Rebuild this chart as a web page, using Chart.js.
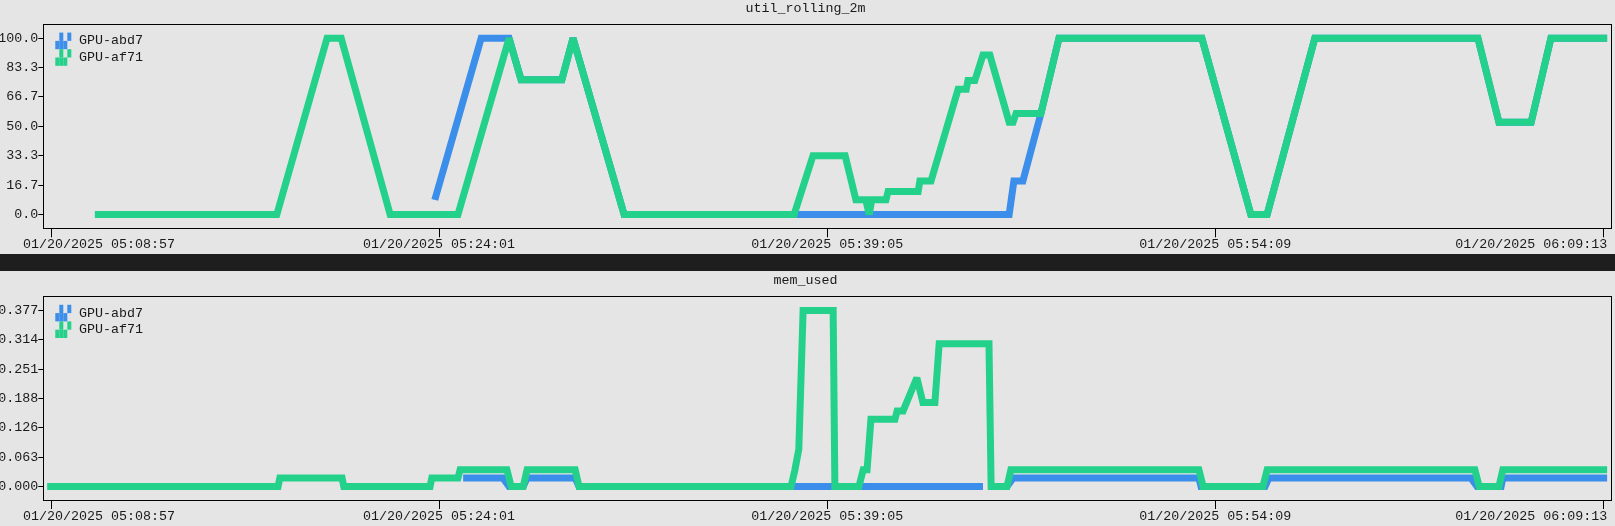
<!DOCTYPE html>
<html>
<head>
<meta charset="utf-8">
<title>util_rolling_2m / mem_used</title>
<script src="https://cdn.jsdelivr.net/npm/chart.js@4.4.1/dist/chart.umd.min.js"></script>
<style>
  html, body { margin: 0; padding: 0; background: #e5e5e5; }
  canvas { display: block; }
  .band { height: 17px; background: #1e1e1e; }
</style>
</head>
<body>
<canvas id="utilChart" width="1615" height="254"></canvas>
<div class="band"></div>
<canvas id="memChart" width="1615" height="255"></canvas>
<script>
// --- data ---
const startTime = '05:08:57';
const xTickTimes = ['05:08:57', '05:24:01', '05:39:05', '05:54:09', '06:09:13'];
const xTickLabels = ['01/20/2025 05:08:57', '01/20/2025 05:24:01', '01/20/2025 05:39:05',
                     '01/20/2025 05:54:09', '01/20/2025 06:09:13'];

const utilTicks = [0, 16.7, 33.3, 50, 66.7, 83.3, 100];
const utilTickLabels = ['0.0', '16.7', '33.3', '50.0', '66.7', '83.3', '100.0'];
const memTicks = [0, 0.063, 0.126, 0.188, 0.251, 0.314, 0.377];
const memTickLabels = ['0.000', '0.063', '0.126', '0.188', '0.251', '0.314', '0.377'];

const seriesNames = ['GPU-abd7', 'GPU-af71'];

// util_rolling_2m, GPU-abd7
const utilAbd7Times = ['05:23:51', '05:25:39', '05:26:44', '05:27:12', '05:28:47', '05:29:13',
  '05:31:12', '05:46:09', '05:46:20', '05:46:41', '05:47:23', '05:48:05', '05:53:38', '05:55:32',
  '05:56:10', '05:58:01', '06:04:21', '06:05:10', '06:06:25', '06:07:11', '06:09:22'];
const utilAbd7Values = [8.3, 100, 100, 76.5, 76.5, 100,
  0, 0, 19, 19, 57.3, 100, 100, 0,
  0, 100, 100, 52.3, 52.3, 100, 100];

// util_rolling_2m, GPU-af71
const utilAf71Times = ['05:10:39', '05:17:43', '05:19:40', '05:20:13', '05:22:07', '05:24:45',
  '05:26:44', '05:27:12', '05:28:47', '05:29:13', '05:31:12', '05:37:48', '05:38:32', '05:39:47',
  '05:40:12', '05:40:35', '05:40:43', '05:40:49', '05:41:22', '05:41:27', '05:42:37', '05:42:41',
  '05:43:07', '05:44:10', '05:44:29', '05:44:33', '05:44:49', '05:45:08', '05:45:24', '05:46:09',
  '05:46:18', '05:46:25', '05:47:23', '05:48:05', '05:53:38', '05:55:32', '05:56:10', '05:58:01',
  '06:04:21', '06:05:10', '06:06:25', '06:07:11', '06:09:22'];
const utilAf71Values = [0, 0, 100, 100, 0, 0,
  100, 76.5, 76.5, 100, 0, 0, 33.3, 33.3,
  8.3, 8.3, 0, 8.3, 8.3, 13, 13, 19,
  19, 71, 71, 76, 76, 90.5, 90.5, 52.3,
  52.3, 57.3, 57.3, 100, 100, 0, 0, 100,
  100, 52.3, 52.3, 100, 100];

// mem_used, GPU-abd7
const memAbd7Times = ['05:24:57', '05:26:30', '05:26:44', '05:27:17', '05:27:26', '05:29:18',
  '05:29:27', '05:45:08', '05:45:30', '05:46:04', '05:46:18', '05:53:31', '05:53:36', '05:56:05',
  '05:56:14', '06:04:05', '06:04:19', '06:05:15', '06:05:19', '06:09:22'];
const memAbd7Values = [0.018, 0.018, 0, 0, 0.018, 0.018,
  0, 0, null, 0, 0.018, 0.018, 0, 0,
  0.018, 0.018, 0, 0, 0.018, 0.018];

// mem_used, GPU-af71
const memAf71Times = ['05:08:48', '05:17:46', '05:17:50', '05:20:15', '05:20:19', '05:23:40',
  '05:23:44', '05:24:45', '05:24:50', '05:26:39', '05:26:49', '05:27:17', '05:27:26', '05:29:18',
  '05:29:27', '05:37:41', '05:37:50', '05:37:59', '05:38:09', '05:39:19', '05:39:23', '05:40:19',
  '05:40:29', '05:40:38', '05:40:47', '05:41:43', '05:41:48', '05:42:02', '05:42:34', '05:42:48',
  '05:43:16', '05:43:26', '05:45:22', '05:45:27', '05:46:04', '05:46:13', '05:53:31', '05:53:41',
  '05:56:00', '05:56:10', '06:04:14', '06:04:24', '06:05:10', '06:05:19', '06:09:22'];
const memAf71Values = [0, 0, 0.018, 0.018, 0, 0,
  0.018, 0.018, 0.036, 0.036, 0, 0, 0.036, 0.036,
  0, 0, 0.036, 0.08, 0.377, 0.377, 0, 0,
  0.036, 0.036, 0.144, 0.144, 0.162, 0.162, 0.233, 0.18,
  0.18, 0.306, 0.306, 0, 0, 0.036, 0.036, 0,
  0, 0.036, 0.036, 0, 0, 0.036, 0.036];

// --- styling ---
const BLUE = '#3b8eea';
const GREEN = '#23d18b';
const TEXT = '#1a1a1a';
const FONT = { family: "'Liberation Mono', 'DejaVu Sans Mono', monospace", size: 13.33, weight: 'normal' };

function toSec(t) {
  const p = t.split(':').map(Number);
  const s = startTime.split(':').map(Number);
  return (p[0] * 3600 + p[1] * 60 + p[2]) - (s[0] * 3600 + s[1] * 60 + s[2]);
}

function points(times, values) {
  return times.map((t, i) => ({ x: toSec(t), y: values[i] }));
}

// box around the plot area + miter limit so sharp peaks don't spike
const frame = {
  id: 'frame',
  beforeDatasetsDraw(chart) {
    const { ctx, chartArea: a } = chart;
    ctx.save();
    ctx.strokeStyle = '#000';
    ctx.lineWidth = 1;
    ctx.strokeRect(Math.floor(a.left) + 0.5, Math.floor(a.top) + 0.5,
      Math.round(a.right - a.left), Math.round(a.bottom - a.top));
    ctx.restore();
    ctx.miterLimit = 1.5;
  },
  afterDatasetsDraw(chart) {
    chart.ctx.miterLimit = 10;
  }
};

// terminal style legend in the top-left corner of the plot
const termLegend = {
  id: 'termLegend',
  afterDraw(chart) {
    const { ctx, chartArea: a } = chart;
    const qw = 4, qh = 8.3;
    chart.data.datasets.forEach((ds, i) => {
      const cy = a.top + 16.6 * (i + 1);
      const gx = a.left + 12;
      ctx.fillStyle = ds.borderColor;
      [1, 3].forEach(c => ctx.fillRect(gx + c * qw, cy - qh, qw, qh));
      [0, 1, 2].forEach(c => ctx.fillRect(gx + c * qw, cy, qw, qh));
      ctx.fillStyle = TEXT;
      ctx.font = FONT.size + 'px ' + FONT.family;
      ctx.textAlign = 'left';
      ctx.textBaseline = 'middle';
      ctx.fillText(ds.label, a.left + 35.7, cy);
    });
  }
};

function makeChart(id, title, titlePad, series, yTicks, yLabels, yMin, yMax, xAxisHeight) {
  return new Chart(document.getElementById(id), {
    type: 'line',
    data: {
      datasets: series.map(s => ({
        label: s.label,
        data: points(s.times, s.values),
        borderColor: s.color,
        backgroundColor: s.color,
        borderWidth: 7,
        borderCapStyle: 'butt',
        borderJoinStyle: 'miter',
        pointRadius: 0,
        tension: 0,
        fill: false,
        spanGaps: false,
        order: s.order
      }))
    },
    options: {
      responsive: false,
      animation: false,
      events: [],
      layout: { padding: { left: 0, right: 4, top: 0, bottom: 0 } },
      plugins: {
        legend: { display: false },
        tooltip: { enabled: false },
        title: { display: true, text: title, color: TEXT, font: FONT, padding: titlePad }
      },
      scales: {
        x: {
          type: 'linear',
          min: -18,
          max: 3634,
          afterBuildTicks: s => { s.ticks = xTickTimes.map(t => ({ value: toSec(t) })); },
          afterFit: s => { s.height = xAxisHeight; s.paddingLeft = 0; s.paddingRight = 0; },
          ticks: {
            autoSkip: false, maxRotation: 0, minRotation: 0, padding: -1,
            color: TEXT, font: FONT,
            // end labels are kept inside the window like the terminal plot does
            callback: (v, i) => {
              if (i === 0) return ' '.repeat(12) + xTickLabels[i];
              if (i === xTickLabels.length - 1) return xTickLabels[i] + ' '.repeat(18);
              return xTickLabels[i];
            }
          },
          grid: { drawOnChartArea: false, drawTicks: true, tickLength: 9, color: '#000' },
          border: { display: false }
        },
        y: {
          min: yMin,
          max: yMax,
          afterBuildTicks: s => { s.ticks = yTicks.map(v => ({ value: v })); },
          afterFit: s => { s.width = 43.3; s.paddingTop = 0; s.paddingBottom = 0; },
          ticks: { padding: 0, color: TEXT, font: FONT, callback: (v, i) => yLabels[i] },
          grid: { drawOnChartArea: false, drawTicks: true, tickLength: 5, color: '#000' },
          border: { display: false }
        }
      }
    },
    plugins: [frame, termLegend]
  });
}

makeChart('utilChart', 'util_rolling_2m', { top: 0, bottom: 8.3 }, [
  { label: seriesNames[0], times: utilAbd7Times, values: utilAbd7Values, color: BLUE, order: 1 },
  { label: seriesNames[1], times: utilAf71Times, values: utilAf71Values, color: GREEN, order: 0 }
], utilTicks, utilTickLabels, -7.83, 107.9, 25.7);

makeChart('memChart', 'mem_used', { top: 1, bottom: 8.5 }, [
  { label: seriesNames[0], times: memAbd7Times, values: memAbd7Values, color: BLUE, order: 1 },
  { label: seriesNames[1], times: memAf71Times, values: memAf71Values, color: GREEN, order: 0 }
], memTicks, memTickLabels, -0.0289, 0.407, 26);
</script>
</body>
</html>
